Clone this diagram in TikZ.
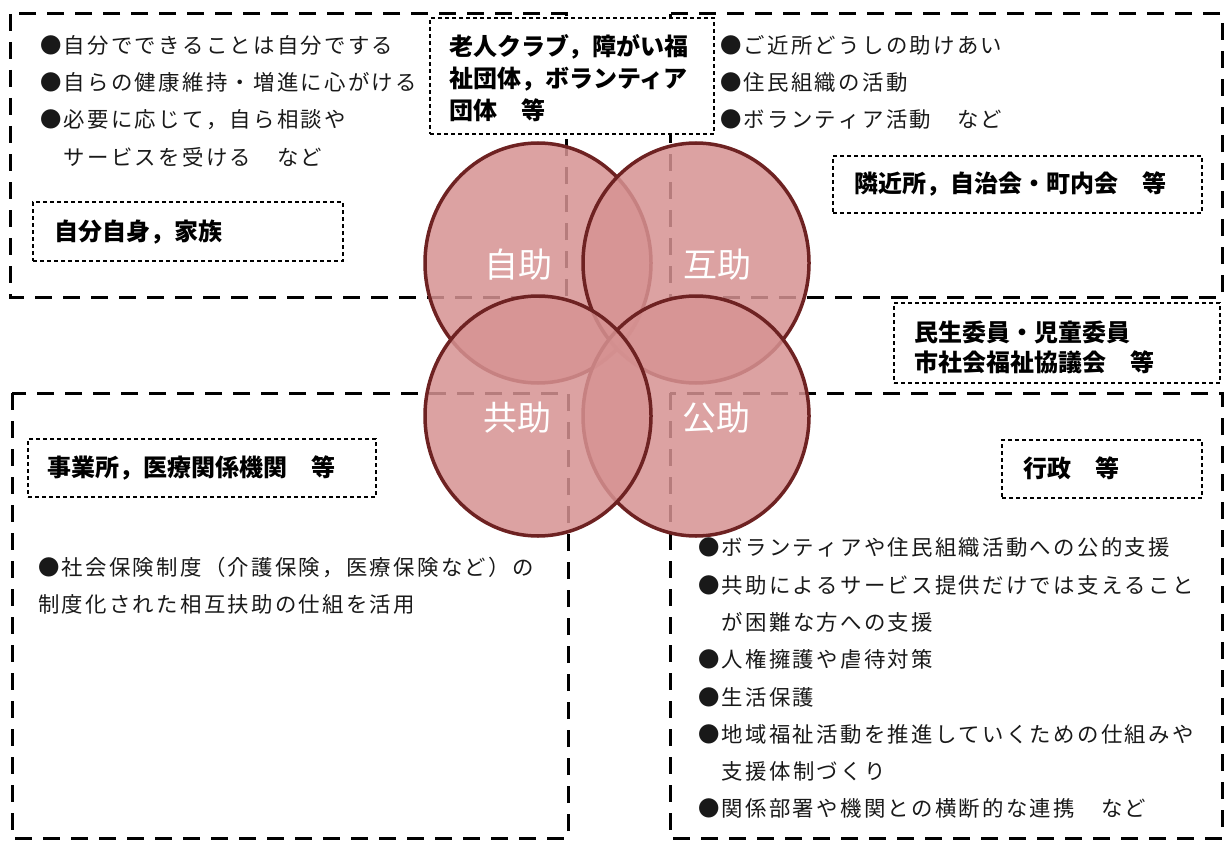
\documentclass[tikz,border=0pt]{standalone}
\usepackage{fontspec}
\usetikzlibrary{shapes.geometric}
\newfontfamily\jp{Noto Sans CJK JP}
\definecolor{cfill}{RGB}{214,146,146}
\definecolor{cline}{RGB}{110,34,34}
\definecolor{btext}{RGB}{25,25,25}
\newcommand\jtrk[1]{\jtrkloop#1\relax}
\def\jtrkloop#1{\ifx\relax#1\else#1\kern2.3pt\expandafter\jtrkloop\fi}
\tikzset{
  bigbox/.style={draw=black, line width=3pt, dash pattern=on 17pt off 11pt},
  lblbox/.style={draw=black, fill=white, line width=1.2pt, dash pattern=on 4pt off 3pt, rectangle, inner sep=0pt},
  circ/.style={ellipse, draw=cline, line width=3.5pt, fill=cfill, fill opacity=0.85, minimum width=226pt, minimum height=240pt, inner sep=0pt},
  circlbl/.style={text=white, font=\jp\fontsize{34}{34}\selectfont, anchor=base, inner sep=0pt},
  body/.style={text=btext, font=\jp\fontsize{21.4}{21.4}\selectfont, anchor=base west, inner sep=0pt},
  lbl/.style={text=black, font=\jp\bfseries\fontsize{24}{24}\selectfont, anchor=base west, inner sep=0pt},
}
\begin{document}
\begin{tikzpicture}[x=1pt,y=-1pt]
\useasboundingbox (0,0) rectangle (1225,840);
% big dashed regions
\draw[bigbox] (10,14) rectangle (566,297);
\draw[bigbox] (670,14) rectangle (1222,297);
\draw[bigbox] (12,393) rectangle (568,838);
\draw[bigbox] (670,393) rectangle (1222,838);
% label boxes
\node[lblbox, minimum width=310pt, minimum height=59pt] (b1) at (188,231.5) {};
\node[lblbox, minimum width=284pt, minimum height=116pt] (b2) at (572,76) {};
\node[lblbox, minimum width=369pt, minimum height=57pt] (b3) at (1017.5,184.5) {};
\node[lblbox, minimum width=326pt, minimum height=80pt] (b4) at (1057,343) {};
\node[lblbox, minimum width=348pt, minimum height=58pt] (b5) at (202,468) {};
\node[lblbox, minimum width=200pt, minimum height=58pt] (b6) at (1102,469) {};
% circles
\node[circ] (jijo) at (538,263) {};
\node[circ] (gojo) at (696,263) {};
\node[circ] (kojo) at (696,416) {};
\node[circ] (kyojo) at (538,416) {};
\node[circlbl] (tjijo) at (518,277) {自助};
\node[circlbl] (tgojo) at (717,277) {互助};
\node[circlbl] (tkyojo) at (517,430) {共助};
\node[circlbl] (tkojo) at (716,430) {公助};
% labels
\node[lbl] (l1) at (54,240) {自分自身，家族};
\node[lbl] (l2a) at (449,56) {老人クラブ，障がい福};
\node[lbl] (l2b) at (449,88) {祉団体，ボランティア};
\node[lbl] (l2c) at (449,120) {団体　等};
\node[lbl] (l3) at (854,192) {隣近所，自治会・町内会　等};
\node[lbl] (l4a) at (914,341) {民生委員・児童委員};
\node[lbl] (l4b) at (914,371) {市社会福祉協議会　等};
\node[lbl] (l5) at (47,476) {事業所，医療関係機関　等};
\node[lbl] (l6) at (1023,477) {行政　等};
% body text top-left
\node[body] (s1) at (40,54) {\jtrk{●自分でできることは自分でする}};
\node[body] (s2) at (40,91) {\jtrk{●自らの健康維持・増進に心がける}};
\node[body] (s3) at (40,128) {\jtrk{●必要に応じて，自ら相談や}};
\node[body] (s4) at (63.7,165) {\jtrk{サービスを受ける　など}};
% body text top-right
\node[body] (g1) at (720,54) {\jtrk{●ご近所どうしの助けあい}};
\node[body] (g2) at (720,91) {\jtrk{●住民組織の活動}};
\node[body] (g3) at (720,128) {\jtrk{●ボランティア活動　など}};
% body text bottom-left
\node[body] (k1) at (38,575) {\jtrk{●社会保険制度（介護保険，医療保険など）の}};
\node[body] (k2) at (38,612) {\jtrk{制度化された相互扶助の仕組を活用}};
% body text bottom-right
\node[body] (p1) at (698,555) {\jtrk{●ボランティアや住民組織活動への公的支援}};
\node[body] (p2) at (698,593) {\jtrk{●共助によるサービス提供だけでは支えること}};
\node[body] (p3) at (721.7,630) {\jtrk{が困難な方への支援}};
\node[body] (p4) at (698,667) {\jtrk{●人権擁護や虐待対策}};
\node[body] (p5) at (698,705) {\jtrk{●生活保護}};
\node[body] (p6) at (698,742) {\jtrk{●地域福祉活動を推進していくための仕組みや}};
\node[body] (p7) at (721.7,779) {\jtrk{支援体制づくり}};
\node[body] (p8) at (698,816) {\jtrk{●関係部署や機関との横断的な連携　など}};
\end{tikzpicture}
\end{document}
